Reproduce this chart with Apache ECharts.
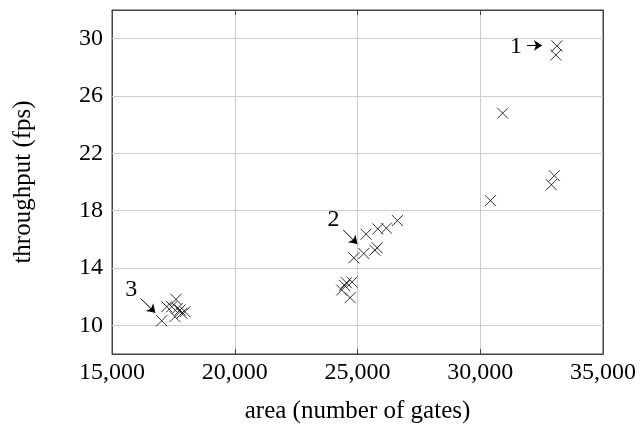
<!DOCTYPE html>
<html>
<head>
<meta charset="utf-8">
<script src="https://cdn.jsdelivr.net/npm/echarts@6/dist/echarts.min.js"></script>
<style>html,body{margin:0;padding:0;background:#fff}#c{width:641px;height:425px}</style>
</head>
<body>
<div id="c"></div>
<script>
// Data: area (number of gates) vs throughput (fps)
const areaValues = [
  33123, 33078, 30912, 33018, 32898, 30416,
  26626, 26175, 25829, 25348, 25799, 25708, 25257, 24851,
  24776, 24550, 24475, 24355, 24700,
  17024, 17228, 17607, 17432, 17566, 17770, 17974, 17661, 17840
];
const throughputValues = [
  29.49, 28.86, 24.80, 20.44, 19.81, 18.70,
  17.31, 16.78, 16.73, 16.36, 15.41, 15.24, 15.01, 14.71,
  13.02, 12.97, 12.78, 12.46, 11.93,
  10.32, 11.30, 11.81, 11.30, 10.60, 11.07, 10.95, 11.18, 10.84
];
const xTicks = [15000, 20000, 25000, 30000, 35000];
const yTicks = [10, 14, 18, 22, 26, 30];
// Annotation labels and arrows
const annotationLabels = ['1', '2', '3'];
const annotationLabelPos = [[31456, 29.46], [24018, 17.34], [15786, 12.46]];
const annotationArrows = [
  [[31904, 29.53], [32515, 29.53]],
  [[24420, 16.65], [24996, 15.67]],
  [[16160, 11.88], [16764, 10.88]]
];

const FONT = '"Liberation Serif", "Times New Roman", serif';
const points = areaValues.map((a, i) => [a, throughputValues[i]]);
const chart = echarts.init(document.getElementById('c'), null, {renderer: 'canvas'});
const fmt = v => v.toLocaleString('en-US');

chart.setOption({
  animation: false,
  backgroundColor: '#fff',
  grid: {left: 112, right: 38, top: 10, bottom: 71, containLabel: false, outerBoundsMode: 'none',
         show: true, borderColor: '#444', borderWidth: 1, backgroundColor: 'transparent'},
  xAxis: [{
    type: 'value', min: 15000, max: 35000, interval: 5000,
    name: 'area (number of gates)', nameLocation: 'middle', nameGap: 45,
    nameTextStyle: {fontFamily: FONT, fontSize: 25, color: '#000'},
    axisLine: {show: true, lineStyle: {color: '#444', width: 1}},
    axisTick: {show: true, inside: true, length: 5, lineStyle: {color: '#444'}},
    axisLabel: {customValues: xTicks, formatter: fmt, fontFamily: FONT, fontSize: 24, color: '#000', margin: 7},
    splitLine: {show: true, lineStyle: {color: '#cccccc', width: 1}}
  }, {
    type: 'value', position: 'top', min: 15000, max: 35000, interval: 5000,
    axisLine: {show: true, lineStyle: {color: '#444'}},
    axisTick: {show: true, inside: true, length: 5, lineStyle: {color: '#444'}},
    axisLabel: {show: false}, splitLine: {show: false}
  }],
  yAxis: [{
    type: 'value', min: 8, max: 32,
    name: 'throughput (fps)', nameLocation: 'middle', nameGap: 76,
    nameTextStyle: {fontFamily: FONT, fontSize: 25, color: '#000'},
    axisLine: {show: true, lineStyle: {color: '#444', width: 1}},
    axisTick: {show: true, inside: true, length: 5, customValues: yTicks, lineStyle: {color: '#444'}},
    axisLabel: {customValues: yTicks, fontFamily: FONT, fontSize: 24, color: '#000', margin: 9},
    splitLine: {show: false}
  }, {
    type: 'value', position: 'right', min: 8, max: 32,
    axisLine: {show: true, lineStyle: {color: '#444'}},
    axisTick: {show: true, inside: true, length: 5, customValues: yTicks, lineStyle: {color: '#444'}},
    axisLabel: {show: false}, splitLine: {show: false}
  }],
  series: [{
    type: 'scatter',
    data: points,
    symbol: 'path://M0,0L10,10M10,0L0,10',
    symbolSize: 11,
    itemStyle: {color: 'none', borderColor: '#000', borderWidth: 1},
    z: 5,
    markLine: {
      silent: true, symbol: ['none', 'none'], animation: false,
      label: {show: false},
      lineStyle: {color: '#cccccc', width: 1, type: 'solid'},
      data: yTicks.map(t => ({yAxis: t}))
    }
  }, {
    type: 'scatter', data: [], z: 6,
    markLine: {
      silent: true, symbol: ['none', 'arrow'], symbolSize: 8, animation: false,
      label: {show: false},
      lineStyle: {color: '#000', width: 1, type: 'solid'},
      itemStyle: {color: '#000'},
      data: annotationArrows.map(a => [{coord: a[0]}, {coord: a[1]}])
    },
    markPoint: {
      silent: true, symbol: 'circle', symbolSize: 0, animation: false,
      label: {show: true, position: 'inside', fontFamily: FONT, fontSize: 24, color: '#000', formatter: p => p.name},
      data: annotationLabels.map((l, i) => ({name: l, coord: annotationLabelPos[i]}))
    }
  }]
});
</script>
</body>
</html>
